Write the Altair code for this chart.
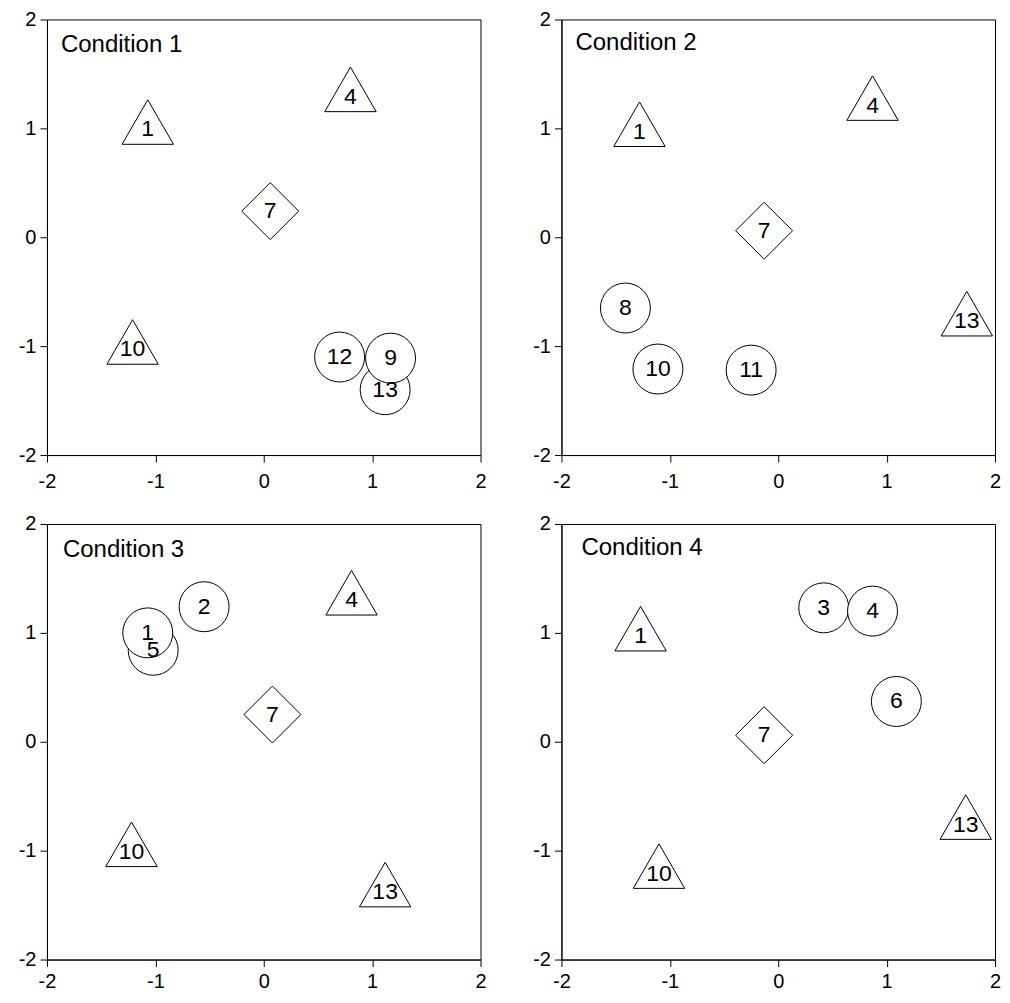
import altair as alt
import pandas as pd

FONT = "Liberation Sans, Arial, Helvetica, sans-serif"

titles = ["Condition 1", "Condition 2", "Condition 3", "Condition 4"]
ticks = [-2, -1, 0, 1, 2]

c1_label = ["1", "4", "7", "10", "13", "12", "9"]
c1_kind = ["triangle", "triangle", "diamond", "triangle", "circle", "circle", "circle"]
c1_x = [-1.07, 0.80, 0.06, -1.21, 1.12, 0.70, 1.17]
c1_y = [0.99, 1.29, 0.24, -1.03, -1.40, -1.10, -1.11]

c2_label = ["1", "4", "7", "13", "8", "10", "11"]
c2_kind = ["triangle", "triangle", "diamond", "triangle", "circle", "circle", "circle"]
c2_x = [-1.28, 0.87, -0.13, 1.74, -1.41, -1.11, -0.25]
c2_y = [0.97, 1.21, 0.06, -0.77, -0.65, -1.21, -1.22]

c3_label = ["4", "7", "10", "13", "5", "1", "2"]
c3_kind = ["triangle", "diamond", "triangle", "triangle", "circle", "circle", "circle"]
c3_x = [0.81, 0.08, -1.22, 1.12, -1.02, -1.07, -0.55]
c3_y = [1.30, 0.25, -1.01, -1.38, 0.84, 1.00, 1.24]

c4_label = ["1", "7", "10", "13", "3", "4", "6"]
c4_kind = ["triangle", "diamond", "triangle", "triangle", "circle", "circle", "circle"]
c4_x = [-1.27, -0.13, -1.10, 1.73, 0.42, 0.87, 1.09]
c4_y = [0.97, 0.06, -1.21, -0.76, 1.23, 1.20, 0.37]

W, H = 434, 436
SIZES = {"triangle": 2650, "diamond": 3249, "circle": 2500}


def panel(labels, kinds, xs, ys, title, tdx, tdy, min_ext, xpad):
    df = pd.DataFrame({"label": labels, "kind": kinds, "x": xs, "y": ys})
    xenc = alt.X(
        "x:Q",
        scale=alt.Scale(domain=[-2, 2], nice=False, zero=False),
        axis=alt.Axis(values=ticks, labelExpr="'' + datum.value", title=None,
                      grid=False, tickSize=7, labelPadding=xpad, labelFlush=False,
                      labelOverlap=False),
    )
    yenc = alt.Y(
        "y:Q",
        scale=alt.Scale(domain=[-2, 2], nice=False, zero=False),
        axis=alt.Axis(values=ticks, labelExpr="'' + datum.value", title=None,
                      grid=False, tickSize=7, labelPadding=4, labelFlush=False,
                      labelOverlap=False, minExtent=min_ext),
    )
    base = alt.Chart(df)
    layers = []
    for k in ["triangle", "diamond", "circle"]:
        layers.append(
            base.transform_filter(alt.datum.kind == k)
            .mark_point(shape=k, size=SIZES[k], filled=True, fill="white",
                        stroke="black", strokeWidth=1, opacity=1)
            .encode(x=xenc, y=yenc)
        )
    layers.append(
        base.mark_text(font=FONT, fontSize=23, color="black",
                       align="center", baseline="middle")
        .encode(x=xenc, y=yenc, text="label:N")
    )
    layers.append(
        alt.Chart(pd.DataFrame({"t": [title]}))
        .mark_text(font=FONT, fontSize=24, color="black",
                   align="left", baseline="alphabetic")
        .encode(x=alt.value(tdx), y=alt.value(tdy), text="t:N")
    )
    return alt.layer(*layers).properties(width=W, height=H)


p1 = panel(c1_label, c1_kind, c1_x, c1_y, titles[0], 14, 33, 38, 9)
p2 = panel(c2_label, c2_kind, c2_x, c2_y, titles[1], 14, 31, 38, 9)
p3 = panel(c3_label, c3_kind, c3_x, c3_y, titles[2], 16, 33, 38, 5)
p4 = panel(c4_label, c4_kind, c4_x, c4_y, titles[3], 20, 31, 38, 5)

row1 = alt.hconcat(p1, p2, spacing=35)
row2 = alt.hconcat(p3, p4, spacing=35)

chart = (
    alt.vconcat(row1, row2, spacing=21)
    .properties(padding={"left": 0, "top": 0, "right": 0, "bottom": 0})
    .configure_view(stroke="black", strokeWidth=1)
    .configure_axis(domainColor="black", tickColor="black", labelColor="black",
                    labelFont=FONT, labelFontSize=20, domainWidth=1, tickWidth=1)
)

chart.save("out.html", embed_options={"renderer": "svg", "actions": False})
